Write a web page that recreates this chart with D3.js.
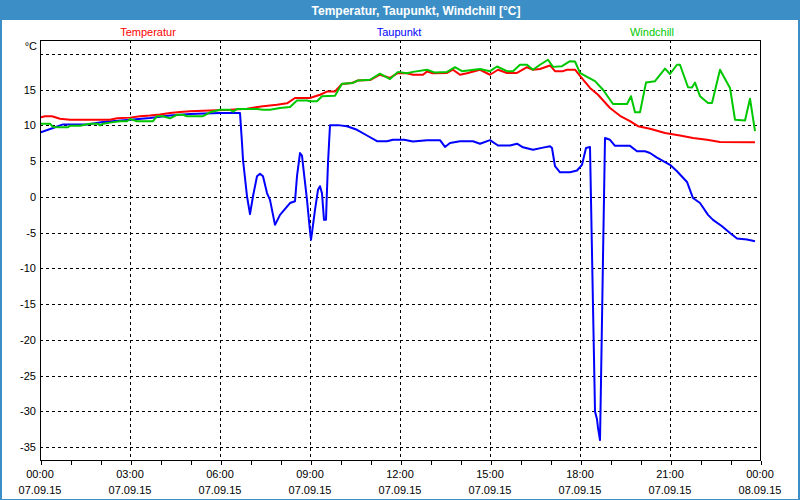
<!DOCTYPE html>
<html>
<head>
<meta charset="utf-8">
<script src="https://cdn.jsdelivr.net/npm/d3@7"></script>
<style>
  html, body { margin: 0; padding: 0; background: #ffffff; }
  svg { display: block; }
  text { font-family: "Liberation Sans", Arial, sans-serif; }
</style>
</head>
<body>
<svg id="chart" width="800" height="500"></svg>
<script>
// ---- Data ----
const chartTitle = "Temperatur, Taupunkt, Windchill [°C]";
const seriesNames = ["Temperatur", "Taupunkt", "Windchill"];
const yTickValues = [-35, -30, -25, -20, -15, -10, -5, 0, 5, 10, 15, 20];
const yTickLabels = ["-35", "-30", "-25", "-20", "-15", "-10", "-5", "0", "5", "10", "15", ""];
const xTickTimes = ["2015-09-07 00:00", "2015-09-07 03:00", "2015-09-07 06:00", "2015-09-07 09:00",
  "2015-09-07 12:00", "2015-09-07 15:00", "2015-09-07 18:00", "2015-09-07 21:00", "2015-09-08 00:00"];

const tempTimes = ["00:00","00:10","00:24","00:40","01:00","02:20","02:34","03:00","03:20","03:40","04:00","04:20","04:40","05:00","05:40","06:20","06:54","07:26","07:54","08:14","08:30","09:00","09:20","09:34","09:50","10:04","10:24","10:36","11:00","11:20","11:40","11:56","12:14","12:26","12:46","12:54","13:06","13:34","13:46","14:00","14:14","14:40","15:00","15:16","15:34","15:54","16:14","16:26","16:40","17:00","17:10","17:26","17:34","17:50","18:00","18:20","18:36","19:00","19:20","19:40","19:56","20:20","20:50","21:20","21:46","22:14","22:40","23:50"];
const tempValues = [11.1,11.3,11.3,10.95,10.8,10.8,11.0,11.1,11.3,11.4,11.55,11.75,11.9,12.0,12.1,12.2,12.35,12.7,12.9,13.1,13.85,13.85,14.3,14.75,14.75,15.8,15.95,16.3,16.35,17.1,16.65,17.35,17.3,17.1,17.1,17.55,17.3,17.35,17.8,17.1,17.3,17.8,17.1,17.8,17.35,17.35,18.15,17.8,17.9,18.4,17.6,17.6,17.8,17.8,16.95,15.25,14.3,12.45,11.35,10.6,9.9,9.55,8.95,8.6,8.25,8.0,7.7,7.65];

const dewTimes = ["00:00","00:26","00:46","01:34","02:06","03:00","03:40","04:20","05:00","06:00","06:40","06:44","06:46","06:54","07:00","07:06","07:14","07:20","07:26","07:34","07:40","07:50","08:00","08:20","08:30","08:34","08:40","08:44","08:46","08:54","09:00","09:02","09:04","09:10","09:16","09:20","09:24","09:28","09:32","09:34","09:36","09:40","09:56","10:14","10:34","10:54","11:14","11:34","11:46","12:08","12:26","12:54","13:20","13:30","13:40","14:00","14:26","14:40","15:00","15:16","15:40","15:54","16:06","16:26","16:46","17:00","17:04","17:10","17:20","17:40","17:54","18:04","18:12","18:20","18:22","18:24","18:26","18:28","18:30","18:34","18:36","18:40","18:42","18:44","18:46","18:48","18:50","19:00","19:10","19:40","19:54","20:10","20:20","20:34","21:00","21:14","21:34","21:46","22:00","22:16","22:26","22:44","23:00","23:14","23:34","23:50"];
const dewValues = [9.0,9.65,10.15,10.15,10.5,10.8,11.05,11.4,11.6,11.75,11.75,7.55,5.2,0.1,-2.4,0.1,2.9,3.25,2.9,0.55,-0.4,-3.9,-2.5,-0.85,-0.6,2.9,6.15,5.8,4.5,-0.4,-4.8,-6.0,-5.0,-1.8,1.0,1.5,0.5,-3.2,-3.2,1.0,4.75,10.05,10.05,9.9,9.4,8.6,7.8,7.8,8.0,8.0,7.75,7.95,7.95,7.0,7.55,7.8,7.8,7.45,7.95,7.2,7.2,7.45,6.95,6.6,6.9,7.1,6.85,4.3,3.45,3.45,3.7,4.5,6.85,7.0,-0.4,-7.8,-15.3,-22.5,-30.0,-31.1,-32.3,-34.0,-25.8,-17.2,-8.5,-0.15,8.25,8.0,7.15,7.15,6.4,6.4,6.15,5.5,4.5,3.6,2.1,-0.15,-0.85,-2.5,-3.2,-4.1,-5.05,-5.8,-5.95,-6.2];

const windTimes = ["00:00","00:20","00:26","00:40","00:56","01:00","01:20","01:40","01:56","02:00","02:06","02:20","02:40","02:54","03:00","03:14","03:46","03:54","04:06","04:20","04:34","04:46","04:54","05:26","05:40","06:00","06:20","06:26","06:34","07:14","07:26","07:40","08:00","08:20","08:34","08:54","09:00","09:14","09:24","09:50","10:04","10:26","10:36","11:00","11:20","11:40","11:56","12:14","12:26","12:54","13:10","13:34","13:50","14:04","14:40","15:00","15:14","15:34","15:46","16:00","16:14","16:26","16:40","16:56","17:06","17:24","17:40","17:50","18:00","18:14","18:30","18:46","19:06","19:34","19:42","19:50","20:00","20:12","20:30","20:50","21:00","21:14","21:20","21:36","21:44","21:50","22:00","22:16","22:24","22:40","23:00","23:10","23:30","23:40","23:50"];
const windValues = [10.25,10.25,9.8,9.75,9.75,9.97,9.97,10.25,10.25,10.0,10.25,10.4,10.6,10.6,10.9,10.6,10.6,11.3,11.3,11.0,11.5,11.5,11.3,11.3,11.85,12.2,12.2,11.95,12.3,12.3,12.2,12.2,12.45,12.6,13.5,13.5,13.4,13.4,14.1,14.15,15.85,15.95,16.3,16.4,17.25,16.5,17.5,17.3,17.5,17.8,17.4,17.5,18.15,17.6,17.9,17.6,18.25,17.6,17.6,18.5,18.5,17.8,18.5,19.2,18.2,18.3,19.0,18.95,17.35,16.8,16.2,15.0,13.0,13.0,14.1,11.85,11.85,16.0,16.2,17.95,17.2,18.5,18.5,15.35,15.3,16.0,14.1,13.15,13.15,17.8,15.25,10.8,10.7,13.75,9.2];

const seriesColors = ["#ff0000", "#0000ff", "#00c800"];

// ---- Drawing ----
const svg = d3.select("#chart");
const W = 800, H = 500;
const plot = { left: 40, top: 40, right: 760, bottom: 460 };

const parseFull = d3.timeParse("%Y-%m-%d %H:%M");
const parseTime = s => parseFull("2015-09-07 " + s);

const x = d3.scaleTime()
  .domain([parseFull(xTickTimes[0]), parseFull(xTickTimes[xTickTimes.length - 1])])
  .range([plot.left, plot.right]);
const y = d3.scaleLinear().domain([-36.8, 21.96]).range([plot.bottom, plot.top]);

// background
svg.append("rect").attr("width", W).attr("height", H).attr("fill", "#ffffff");
// title bar
svg.append("rect").attr("x", 0).attr("y", 0).attr("width", W).attr("height", 20).attr("fill", "#3c8fc6");
// outer border
svg.append("rect").attr("x", 0).attr("y", 20).attr("width", 2).attr("height", H - 20).attr("fill", "#3c8fc6");
svg.append("rect").attr("x", W - 2).attr("y", 20).attr("width", 2).attr("height", H - 20).attr("fill", "#3c8fc6");
svg.append("rect").attr("x", 0).attr("y", H - 1).attr("width", W).attr("height", 1).attr("fill", "#3c8fc6");

svg.append("text")
  .attr("x", 416).attr("y", 14.5)
  .attr("text-anchor", "middle")
  .attr("fill", "#ffffff")
  .attr("font-weight", "bold")
  .attr("font-size", 12)
  .text(chartTitle);

// legend labels
const legendX = [148, 399, 652];
seriesNames.forEach((n, i) => {
  svg.append("text")
    .attr("x", legendX[i]).attr("y", 36)
    .attr("text-anchor", "middle")
    .attr("font-size", 11)
    .attr("fill", seriesColors[i])
    .text(n);
});

// unit label
svg.append("text").attr("x", 37).attr("y", 50).attr("text-anchor", "end")
  .attr("font-size", 11).attr("fill", "#000").text("°C");

// horizontal grid
const gGrid = svg.append("g").attr("shape-rendering", "crispEdges");
yTickValues.forEach(v => {
  const yy = Math.round(y(v)) + 0.5;
  gGrid.append("line")
    .attr("x1", plot.left).attr("x2", plot.right)
    .attr("y1", yy).attr("y2", yy)
    .attr("stroke", "#000").attr("stroke-dasharray", "3,3");
});
// vertical grid
xTickTimes.slice(1, -1).forEach(t => {
  const xx = Math.round(x(parseFull(t))) + 0.5;
  gGrid.append("line")
    .attr("x1", xx).attr("x2", xx)
    .attr("y1", plot.top).attr("y2", plot.bottom)
    .attr("stroke", "#000").attr("stroke-dasharray", "3,3");
});

// y labels
yTickValues.forEach((v, i) => {
  svg.append("text")
    .attr("x", 36).attr("y", y(v) + 4)
    .attr("text-anchor", "end")
    .attr("font-size", 11).attr("fill", "#000")
    .text(yTickLabels[i]);
});

// x axis
const xAxis = d3.axisBottom(x)
  .ticks(d3.timeHour.every(1))
  .tickSize(4)
  .tickFormat("");
const gx = svg.append("g")
  .attr("transform", `translate(0.5,${plot.bottom + 0.5})`)
  .attr("shape-rendering", "crispEdges")
  .call(xAxis);
gx.select(".domain").remove();
gx.selectAll(".tick line").attr("stroke", "#000");

const fmtTime = d3.timeFormat("%H:%M");
const fmtDate = d3.timeFormat("%d.%m.%y");
xTickTimes.forEach(t => {
  const d = parseFull(t);
  const xx = x(d);
  svg.append("text").attr("x", xx).attr("y", 478).attr("text-anchor", "middle")
    .attr("font-size", 11).attr("fill", "#000").text(fmtTime(d));
  svg.append("text").attr("x", xx).attr("y", 494).attr("text-anchor", "middle")
    .attr("font-size", 11).attr("fill", "#000").text(fmtDate(d));
});

// series lines
const line = d3.line().x(d => x(d[0])).y(d => y(d[1]));
const clip = svg.append("clipPath").attr("id", "clip")
  .append("rect").attr("x", plot.left).attr("y", plot.top)
  .attr("width", plot.right - plot.left).attr("height", plot.bottom - plot.top);

const seriesData = [
  d3.zip(tempTimes.map(parseTime), tempValues),
  d3.zip(dewTimes.map(parseTime), dewValues),
  d3.zip(windTimes.map(parseTime), windValues)
];
// draw order: dew point, temperature, windchill on top
[1, 0, 2].forEach(i => {
  svg.append("path")
    .datum(seriesData[i])
    .attr("clip-path", "url(#clip)")
    .attr("fill", "none")
    .attr("stroke", seriesColors[i])
    .attr("stroke-width", 2)
    .attr("stroke-linejoin", "round")
    .attr("d", line);
});

// frame
svg.append("rect")
  .attr("x", plot.left + 0.5).attr("y", plot.top + 0.5)
  .attr("width", plot.right - plot.left).attr("height", plot.bottom - plot.top)
  .attr("fill", "none").attr("stroke", "#000").attr("shape-rendering", "crispEdges");
</script>
</body>
</html>
